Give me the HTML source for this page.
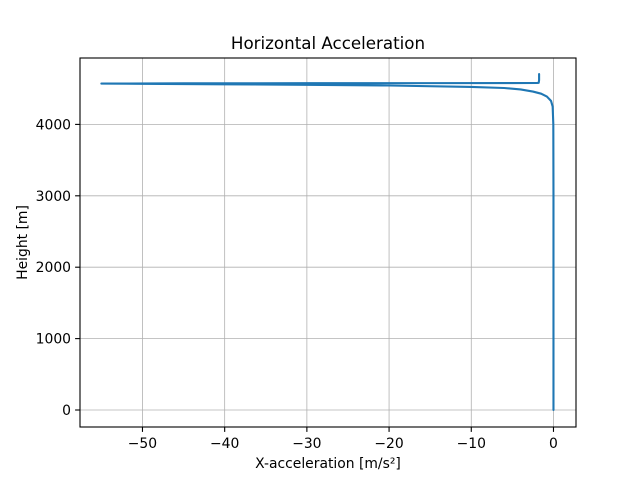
<!DOCTYPE html>
<html><head><meta charset="utf-8"><style>body{margin:0;background:#fff}svg{display:block;font-family:"DejaVu Sans","Liberation Sans",sans-serif}</style></head>
<body>
<svg id="c" width="640" height="480"></svg>
<script>
const xTicks=[-50,-40,-30,-20,-10,0];
const yTicks=[0,1000,2000,3000,4000];
const accel=[0,0,0,0,-0.02,-0.1,-0.3,-0.8,-1.5,-2.5,-4,-6,-10,-20,-30,-40,-50,-55,-45,-30,-15,-5,-2,-1.8,-1.75,-1.75];
const height=[0,1000,2000,3000,4000,4250,4330,4390,4430,4460,4490,4510,4525,4545,4555,4562,4568,4572,4575,4577,4578,4579,4580,4582,4620,4705];
const L=80,R=576,T=58,B=427,xmin=-57.6,xmax=2.74,ymin=-238,ymax=4930;
const X=v=>L+(v-xmin)/(xmax-xmin)*(R-L), Y=v=>B-(v-ymin)/(ymax-ymin)*(B-T);
const s=document.getElementById('c');const NS='http://www.w3.org/2000/svg';
function mk(t,a,txt){const e=document.createElementNS(NS,t);for(const k in a)e.setAttribute(k,a[k]);if(txt!=null)e.textContent=txt;s.appendChild(e);return e;}
xTicks.forEach(v=>{const x=X(v);
let g=mk('line',{x1:x,x2:x,y1:T,y2:B,stroke:'#b0b0b0','stroke-width':0.8});


mk('line',{x1:x,x2:x,y1:B,y2:B+4.9,stroke:'#000','stroke-width':1.1});
let t=mk('text',{x:x,y:B+21,'text-anchor':'middle','font-size':13.9},(v<0?'\u2212'+(-v):v));

});
yTicks.forEach(v=>{const y=Y(v);
let g=mk('line',{x1:L,x2:R,y1:y,y2:y,stroke:'#b0b0b0','stroke-width':0.8});


mk('line',{x1:L-4.9,x2:L,y1:y,y2:y,stroke:'#000','stroke-width':1.1});
let t=mk('text',{x:L-9,y:y+5,'text-anchor':'end','font-size':13.9},v);

});
let p=mk('polyline',{points:accel.map((a,i)=>X(a)+','+Y(height[i])).join(' '),fill:'none',stroke:'#1f77b4','stroke-width':2.1,'stroke-linejoin':'round','stroke-linecap':'round'});


let f=mk('rect',{x:L,y:T,width:R-L,height:B-T,fill:'none',stroke:'#000','stroke-width':1.1});


let ti=mk('text',{x:(L+R)/2,y:T-9,'text-anchor':'middle','font-size':16.7},'Horizontal Acceleration');


let xl=mk('text',{x:(L+R)/2,y:468,'text-anchor':'middle','font-size':13.9},'X-acceleration [m/s²]');


let yl=mk('text',{x:0,y:0,'text-anchor':'middle','font-size':13.9,transform:'translate(27,'+((T+B)/2)+') rotate(-90)'},'Height [m]');


</script>
</body></html>
